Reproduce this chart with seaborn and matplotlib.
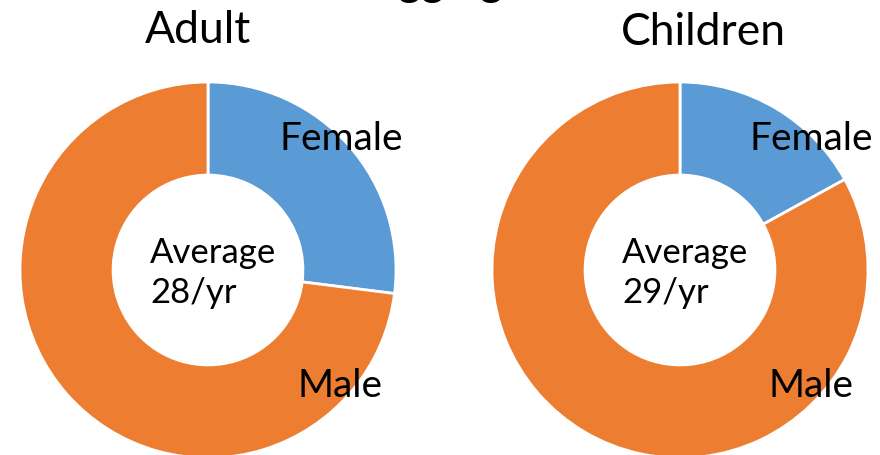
import matplotlib
matplotlib.use("Agg")
import matplotlib.pyplot as plt
import seaborn as sns

sns.set_theme(style="white")
plt.rcParams['font.family'] = ['Lato', 'DejaVu Sans']

# Data
groups = ["Adult", "Children"]
categories = ["Female", "Male"]
adult_share = [27, 73]
children_share = [17, 83]
averages = ["Average\n28/yr", "Average\n29/yr"]
title_text = "Logging"

palette = ["#5B9BD5", "#ED7D31"]

W, H = 880, 456
fig = plt.figure(figsize=(W / 100, H / 100), dpi=100)
fig.patch.set_facecolor("white")

R = 188
centers = [(208, 271), (680, 271)]
shares = [adult_share, children_share]

def fx(px):
    return px / W

def fy(py_top):
    return (H - py_top) / H

for (cx, cy), vals in zip(centers, shares):
    ax = fig.add_axes([fx(cx - R), fy(cy + R), 2 * R / W, 2 * R / H])
    ax.pie(vals, colors=palette, startangle=90, counterclock=False,
           radius=1.0,
           wedgeprops=dict(width=0.495, edgecolor="white", linewidth=2))
    ax.set_xlim(-1, 1)
    ax.set_ylim(-1, 1)
    ax.set_aspect("equal")
    ax.axis("off")

fs_title = 32
fs_label = 28
fs_center = 25

# Partly visible main title
fig.text(fx(427), fy(-5), title_text, ha="center", va="baseline",
         fontsize=fs_title, color="black")

# Group titles
fig.text(fx(198), fy(43), groups[0], ha="center", va="baseline",
         fontsize=fs_title, color="black")
fig.text(fx(703), fy(45), groups[1], ha="center", va="baseline",
         fontsize=fs_title, color="black")

# Category labels
label_pos = [((341, 150), (340, 397)), ((811, 150), (811, 397))]
for (fpos, mpos) in label_pos:
    fig.text(fx(fpos[0]), fy(fpos[1]), categories[0], ha="center",
             va="baseline", fontsize=fs_label, color="black")
    fig.text(fx(mpos[0]), fy(mpos[1]), categories[1], ha="center",
             va="baseline", fontsize=fs_label, color="black")

# Center annotations
for (cx, cy), txt in zip(centers, averages):
    l1, l2 = txt.split("\n")
    fig.text(fx(cx - 58), fy(263), l1, ha="left", va="baseline",
             fontsize=fs_center, color="black")
    fig.text(fx(cx - 58), fy(303), l2, ha="left", va="baseline",
             fontsize=fs_center, color="black")

fig.savefig("out.png", dpi=100, facecolor="white")
